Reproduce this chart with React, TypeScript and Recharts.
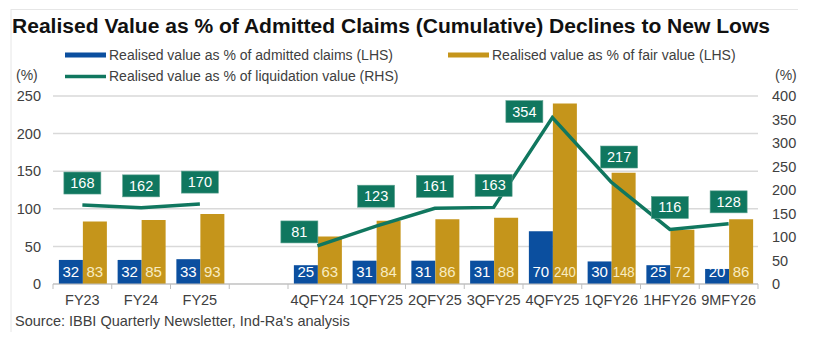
import React from 'react';
import { ComposedChart, Bar, Line, XAxis, YAxis, CartesianGrid, LabelList } from 'recharts';

// categories (blank slot splits annual from quarterly figures)
const categories = ['FY23', 'FY24', 'FY25', '', '4QFY24', '1QFY25', '2QFY25', '3QFY25', '4QFY25', '1QFY26', '1HFY26', '9MFY26'];
const admittedClaims = [32, 32, 33, null, 25, 31, 31, 31, 70, 30, 25, 20];
const fairValue = [83, 85, 93, null, 63, 84, 86, 88, 240, 148, 72, 86];
const liquidationValue = [168, 162, 170, null, 81, 123, 161, 163, 354, 217, 116, 128];
const leftTicks = [0, 50, 100, 150, 200, 250];
const rightTicks = [0, 50, 100, 150, 200, 250, 300, 350, 400];

const BLUE = '#0b4f9f';
const GOLD = '#c5951b';
const GREEN = '#10775f';
const TEXT = '#404040';
const FONT = '"Liberation Sans", Arial, sans-serif';

const W = 813;
const H = 341;
const MARGIN = { top: 96, right: 15, bottom: 27, left: 13 };
const Y_W = 40;
const PLOT_W = W - MARGIN.left - MARGIN.right - 2 * Y_W;
const BAND = PLOT_W / categories.length;

// small nudges for the green boxes where the original moves them off the point
const labelNudge: Record<string, [number, number]> = {
  '4QFY24': [-18, 8],
  '1QFY25': [0, -8],
  '4QFY25': [-28, 16],
  '1QFY26': [8, -3],
};

const data = categories.map((cat, i) => ({
  cat,
  admitted: admittedClaims[i],
  fair: fairValue[i],
  liquidation: liquidationValue[i],
}));

const XTick = (props: any) => {
  const { x, y, payload, index } = props;
  const left = x - BAND / 2;
  const right = x + BAND / 2;
  return (
    <g>
      <line x1={left} x2={left} y1={y - 5} y2={y} stroke="#bfbfbf" />
      {index === categories.length - 1 && <line x1={right} x2={right} y1={y - 5} y2={y} stroke="#bfbfbf" />}
      <text x={x} y={y + 16} textAnchor="middle" fill={TEXT} fontSize={14.5} fontFamily={FONT}>
        {payload.value}
      </text>
    </g>
  );
};

const barLabel = (color: string) => (props: any) => {
  const { x, y, width, height, value } = props;
  if (value == null) return null;
  const text = String(value);
  const tooWide = text.length * 8.3 > width - 1;
  return (
    <text
      x={x + width / 2}
      y={y + height - 7}
      textAnchor="middle"
      fill={color}
      fontSize={15}
      fontFamily={FONT}
      {...(tooWide ? { textLength: width - 2, lengthAdjust: 'spacingAndGlyphs' } : {})}
    >
      {text}
    </text>
  );
};

const LineLabel = (props: any) => {
  const { x, y, value, index } = props;
  if (value == null) return null;
  const [dx, dy] = labelNudge[categories[index]] ?? [0, 0];
  const cx = x + dx;
  const cy = y - 22 + dy;
  return (
    <g>
      <rect x={cx - 18.5} y={cy - 11} width={37} height={22} fill={GREEN} stroke="#5fa392" strokeWidth={0.6} />
      <text x={cx} y={cy + 5} textAnchor="middle" fill="#fff" fontSize={14.5} fontFamily={FONT}>
        {value}
      </text>
    </g>
  );
};

const legendItems = [
  { label: 'Realised value as % of admitted claims (LHS)', color: BLUE, kind: 'bar', x: 65, row: 0 },
  { label: 'Realised value as % of fair value (LHS)', color: GOLD, kind: 'bar', x: 448, row: 0 },
  { label: 'Realised value as % of liquidation value (RHS)', color: GREEN, kind: 'line', x: 65, row: 1 },
];

export default function App() {
  return (
    <div style={{ position: 'absolute', left: 0, top: 0, width: W, height: H, background: '#fff', fontFamily: FONT }}>
      <svg width={W} height={H} style={{ position: 'absolute', left: 0, top: 0 }}>
        <line x1={11} x2={11} y1={9} y2={332} stroke="#e6e6e6" />
        <line x1={11} x2={798} y1={9.5} y2={9.5} stroke="#e6e6e6" />
        <text
          x={12}
          y={33}
          fontSize={20}
          fontWeight="bold"
          fill="#111"
          fontFamily={FONT}
          textLength={758}
          lengthAdjust="spacingAndGlyphs"
        >
          Realised Value as % of Admitted Claims (Cumulative) Declines to New Lows
        </text>
        {legendItems.map((it) => {
          const cy = it.row === 0 ? 55 : 76.5;
          return (
            <g key={it.label}>
              {it.kind === 'bar' ? (
                <rect x={it.x} y={cy - 2.5} width={41} height={5} fill={it.color} />
              ) : (
                <line x1={it.x} x2={it.x + 41} y1={cy} y2={cy} stroke={it.color} strokeWidth={3.5} />
              )}
              <text x={it.x + 44} y={cy + 4.5} fontSize={14} fill={TEXT} fontFamily={FONT}>
                {it.label}
              </text>
            </g>
          );
        })}
        <text x={16} y={80} fontSize={14} fill={TEXT} fontFamily={FONT}>(%)</text>
        <text x={775} y={80} fontSize={14} fill={TEXT} fontFamily={FONT}>(%)</text>
        <text x={15} y={326} fontSize={14.5} fill={TEXT} fontFamily={FONT}>
          Source: IBBI Quarterly Newsletter, Ind-Ra's analysis
        </text>
      </svg>
      <div style={{ position: 'absolute', left: 0, top: 0 }}>
        <ComposedChart width={W} height={H} data={data} margin={MARGIN} barCategoryGap="10%" barGap={0}>
          <CartesianGrid yAxisId="left" vertical={false} stroke="#d9d9d9" strokeWidth={1.5} />
          <XAxis
            dataKey="cat"
            height={30}
            interval={0}
            axisLine={{ stroke: '#bfbfbf' }}
            tickLine={false}
            tickSize={5}
            tickMargin={0}
            tick={<XTick />}
          />
          <YAxis
            yAxisId="left"
            width={Y_W}
            domain={[0, 250]}
            ticks={leftTicks}
            axisLine={false}
            tickLine={false}
            tickMargin={6}
            tick={{ fill: TEXT, fontSize: 14.5, fontFamily: FONT }}
          />
          <YAxis
            yAxisId="right"
            orientation="right"
            width={Y_W}
            domain={[0, 400]}
            ticks={rightTicks}
            axisLine={false}
            tickLine={false}
            tickMargin={8}
            tick={{ fill: TEXT, fontSize: 14.5, fontFamily: FONT }}
          />
          <Bar yAxisId="left" dataKey="admitted" fill={BLUE} isAnimationActive={false}>
            <LabelList dataKey="admitted" content={barLabel('#ffffff')} />
          </Bar>
          <Bar yAxisId="left" dataKey="fair" fill={GOLD} isAnimationActive={false}>
            <LabelList dataKey="fair" content={barLabel('#f8ecc2')} />
          </Bar>
          <Line
            yAxisId="right"
            dataKey="liquidation"
            stroke={GREEN}
            strokeWidth={3.5}
            dot={false}
            connectNulls={false}
            isAnimationActive={false}
          >
            <LabelList dataKey="liquidation" content={<LineLabel />} />
          </Line>
        </ComposedChart>
      </div>
    </div>
  );
}
